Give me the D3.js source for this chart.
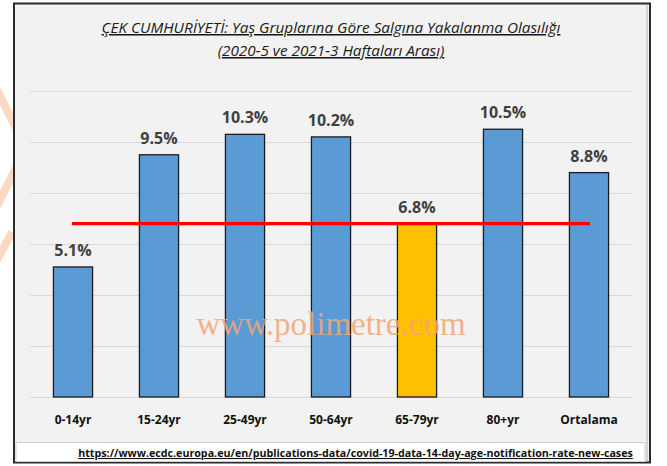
<!DOCTYPE html>
<html>
<head>
<meta charset="utf-8">
<script src="https://cdn.jsdelivr.net/npm/d3@7/dist/d3.min.js"></script>
<style>
  html, body { margin: 0; padding: 0; background: #ffffff; }
  svg { display: block; }
  text { font-family: "Open Sans", "Noto Sans", sans-serif; }
</style>
</head>
<body>
<div id="chart"></div>
<script>
// --- data ---
const categories = ['0-14yr', '15-24yr', '25-49yr', '50-64yr', '65-79yr', '80+yr', 'Ortalama'];
const values = [5.1, 9.5, 10.3, 10.2, 6.8, 10.5, 8.8];
const highlight = ['65-79yr'];
const refValue = 6.8;
const yTicks = [0, 2, 4, 6, 8, 10, 12];
const titleLines = [
    'ÇEK CUMHURİYETİ: Yaş Gruplarına Göre Salgına Yakalanma Olasılığı',
    '(2020-5 ve 2021-3 Haftaları Arası)'
];
const sourceText = 'https://www.ecdc.europa.eu/en/publications-data/covid-19-data-14-day-age-notification-rate-new-cases';
const watermark = 'www.polimetre.com';

const W = 667, H = 466;

const svg = d3.select('#chart')
    .append('svg')
    .attr('width', W)
    .attr('height', H);

// faint logo marks left of the frame
const logo = svg.append('g').attr('fill', 'none').attr('stroke', '#fbd8c4').attr('stroke-width', 8);
logo.append('path').attr('d', 'M -4 88 L 16 128');
logo.append('path').attr('d', 'M 16 168 L -4 208');
logo.append('path').attr('d', 'M 12 232 L -4 262');

// outer frame
svg.append('rect')
    .attr('x', 14).attr('y', 3.5)
    .attr('width', 636).attr('height', 459)
    .attr('fill', '#f2f2f2')
    .attr('stroke', '#2b2b2b')
    .attr('stroke-width', 2);
svg.append('line')
    .attr('x1', 647).attr('x2', 647).attr('y1', 5).attr('y2', 461)
    .attr('stroke', '#c8c8c8').attr('stroke-width', 1.5);

// title
const title = svg.append('g').attr('class', 'title');
titleLines.forEach((t, i) => {
    title.append('text')
        .attr('x', 331)
        .attr('y', 33 + i * 23)
        .attr('text-anchor', 'middle')
        .attr('fill', '#1a1a1a')
        .style('font-style', 'italic')
        .style('font-size', '15.3px')
        .style('text-decoration', 'underline')
        .text(t);
});

// scales
const margin = { left: 30, right: 35, top: 91, bottom: 69 };
const x = d3.scaleBand()
    .domain(categories)
    .range([margin.left, W - margin.right])
    .paddingInner(0.545)
    .paddingOuter(0.2725);

const y = d3.scaleLinear()
    .domain([0, 12])
    .range([H - margin.bottom, margin.top]);

// gridlines
svg.append('g')
    .attr('class', 'grid')
    .selectAll('line')
    .data(yTicks)
    .join('line')
    .attr('x1', margin.left)
    .attr('x2', W - margin.right)
    .attr('y1', d => y(d) + 0.5)
    .attr('y2', d => y(d) + 0.5)
    .attr('stroke', '#d9d9d9')
    .attr('stroke-width', 1.2);

// bars
svg.append('g')
    .attr('class', 'bars')
    .selectAll('rect')
    .data(categories)
    .join('rect')
    .attr('x', d => x(d))
    .attr('y', (d, i) => y(values[i]))
    .attr('width', x.bandwidth())
    .attr('height', (d, i) => y(0) - y(values[i]))
    .attr('fill', d => highlight.includes(d) ? '#ffc000' : '#5b9bd5')
    .attr('stroke', '#1c1c1c')
    .attr('stroke-width', 1.3);

// value labels
svg.append('g')
    .attr('class', 'labels')
    .selectAll('text')
    .data(categories)
    .join('text')
    .attr('x', d => x(d) + x.bandwidth() / 2)
    .attr('y', (d, i) => y(values[i]) - 11)
    .attr('text-anchor', 'middle')
    .attr('fill', '#404040')
    .style('font-size', '16px')
    .style('font-weight', 'bold')
    .text((d, i) => values[i].toFixed(1) + '%');

// reference line
svg.append('line')
    .attr('x1', x(categories[0]) + x.bandwidth() / 2 - 1)
    .attr('x2', x(categories[categories.length - 1]) + x.bandwidth() / 2 + 1)
    .attr('y1', y(refValue))
    .attr('y2', y(refValue))
    .attr('stroke', '#ff0000')
    .attr('stroke-width', 3.4);

// watermark, drawn over the bars
svg.append('text')
    .attr('x', 331)
    .attr('y', 335)
    .attr('text-anchor', 'middle')
    .attr('fill', '#f4a574')
    .attr('fill-opacity', 0.85)
    .style('font-family', '"Liberation Serif", "DejaVu Serif", serif')
    .style('font-size', '33px')
    .text(watermark);

// x axis labels
const xAxis = svg.append('g')
    .attr('transform', `translate(0,${y(0)})`)
    .call(d3.axisBottom(x).tickSize(0).tickPadding(18));
xAxis.select('.domain').remove();
xAxis.selectAll('text')
    .attr('fill', '#111')
    .style('font-size', '12px')
    .style('font-weight', 'bold')
    .style('font-family', '"Open Sans", sans-serif');

// source box
svg.append('rect')
    .attr('x', 16).attr('y', 442.5)
    .attr('width', 629).attr('height', 19)
    .attr('fill', '#ffffff')
    .attr('stroke', '#d0d0d0')
    .attr('stroke-width', 1);
svg.append('text')
    .attr('x', 355.5)
    .attr('y', 457)
    .attr('text-anchor', 'middle')
    .attr('fill', '#111')
    .style('font-size', '10.7px')
    .style('font-weight', 'bold')
    .style('text-decoration', 'underline')
    .text(sourceText);
</script>
</body>
</html>
